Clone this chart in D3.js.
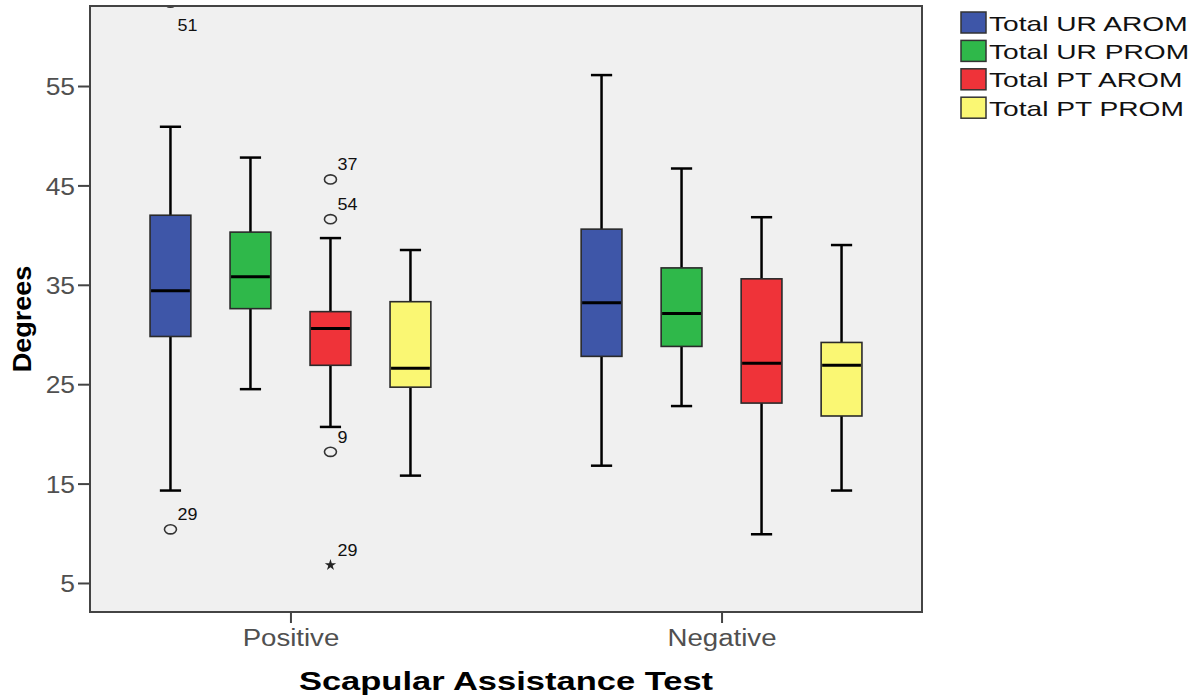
<!DOCTYPE html>
<html><head><meta charset="utf-8">
<script src="https://cdn.jsdelivr.net/npm/d3@7"></script>
<style>
html,body{margin:0;padding:0;background:#fff;}
svg{display:block;font-family:"Liberation Sans",Arial,sans-serif;}
</style></head>
<body>
<svg id="chart" width="1198" height="698"></svg>
<script>
// ---- data ----
const categories = ["Positive", "Negative"];
const seriesNames = ["Total UR AROM", "Total UR PROM", "Total PT AROM", "Total PT PROM"];
const seriesColors = ["#3e56a8", "#2fb84a", "#ef3339", "#faf773"];
// [whisker low, Q1, median, Q3, whisker high] per category
const urArom = [[14.3, 29.8, 34.4, 42.0, 50.9], [16.8, 27.8, 33.2, 40.6, 56.1]];
const urProm = [[24.5, 32.6, 35.8, 40.3, 47.8], [22.8, 28.8, 32.1, 36.7, 46.7]];
const ptArom = [[20.7, 26.9, 30.6, 32.3, 39.7], [9.9, 23.1, 27.1, 35.6, 41.8]];
const ptProm = [[15.8, 24.7, 26.6, 33.3, 38.5], [14.3, 21.8, 26.9, 29.2, 39.0]];
const outlierCats   = ["Positive", "Positive", "Positive", "Positive", "Positive", "Positive"];
const outlierSeries = ["Total UR AROM", "Total UR AROM", "Total PT AROM", "Total PT AROM", "Total PT AROM", "Total PT AROM"];
const outlierValues = [63.4, 10.4, 45.6, 41.6, 18.2, 6.8];
const outlierLabels = ["51", "29", "37", "54", "9", "29"];
const outlierExtreme = [false, false, false, false, false, true];
const yTicks = [5, 15, 25, 35, 45, 55];
const yTitle = "Degrees";
const xTitle = "Scapular Assistance Test";

const seriesStats = [urArom, urProm, ptArom, ptProm];

// ---- layout ----
const svg = d3.select("#chart");
const plot = {left: 90, right: 922, top: 6, bottom: 612};

const x = d3.scalePoint().domain(categories).range([plot.left, plot.right]).padding(0.465);
const xSub = d3.scaleBand().domain(seriesNames).range([-160, 160]).padding(0);
const boxW = xSub.bandwidth() * 0.51;
const capW = boxW * 0.52;
const y = d3.scaleLinear().domain([2.08, 63.05]).range([plot.bottom, plot.top]);
const color = d3.scaleOrdinal().domain(seriesNames).range(seriesColors);

function stretch(sel, k) {
  sel.each(function () {
    const w = this.getComputedTextLength();
    d3.select(this).attr("textLength", w * k).attr("lengthAdjust", "spacingAndGlyphs");
  });
}

// plot background
svg.append("rect").attr("x", plot.left).attr("y", plot.top)
  .attr("width", plot.right - plot.left).attr("height", plot.bottom - plot.top)
  .attr("fill", "#f0f0f0");

svg.append("clipPath").attr("id", "clip").append("rect")
  .attr("x", plot.left).attr("y", plot.top)
  .attr("width", plot.right - plot.left).attr("height", plot.bottom - plot.top);

// boxes
const boxes = [];
seriesNames.forEach((s, si) => {
  categories.forEach((c, ci) => {
    const st = seriesStats[si][ci];
    boxes.push({series: s, cat: c, lo: st[0], q1: st[1], med: st[2], q3: st[3], hi: st[4]});
  });
});

const g = svg.append("g").attr("clip-path", "url(#clip)");
const bg = g.selectAll("g.box").data(boxes).join("g").attr("class", "box")
  .attr("transform", d => `translate(${x(d.cat) + xSub(d.series) + xSub.bandwidth() / 2},0)`);

bg.append("line").attr("x1", 0).attr("x2", 0)
  .attr("y1", d => y(d.hi)).attr("y2", d => y(d.q3))
  .attr("stroke", "#000").attr("stroke-width", 2.5);
bg.append("line").attr("x1", 0).attr("x2", 0)
  .attr("y1", d => y(d.q1)).attr("y2", d => y(d.lo))
  .attr("stroke", "#000").attr("stroke-width", 2.5);
bg.append("line").attr("x1", -capW / 2).attr("x2", capW / 2)
  .attr("y1", d => y(d.hi)).attr("y2", d => y(d.hi))
  .attr("stroke", "#000").attr("stroke-width", 2.5);
bg.append("line").attr("x1", -capW / 2).attr("x2", capW / 2)
  .attr("y1", d => y(d.lo)).attr("y2", d => y(d.lo))
  .attr("stroke", "#000").attr("stroke-width", 2.5);
bg.append("rect").attr("x", -boxW / 2).attr("width", boxW)
  .attr("y", d => y(d.q3)).attr("height", d => y(d.q1) - y(d.q3))
  .attr("fill", d => color(d.series)).attr("stroke", "#2a2a2a").attr("stroke-width", 1.6);
bg.append("line").attr("x1", -boxW / 2 + 1).attr("x2", boxW / 2 - 1)
  .attr("y1", d => y(d.med)).attr("y2", d => y(d.med))
  .attr("stroke", "#000").attr("stroke-width", 3);

// outliers
const outliers = outlierValues.map((v, i) => ({
  cat: outlierCats[i], series: outlierSeries[i], value: v, label: outlierLabels[i], extreme: outlierExtreme[i]
}));
const ox = d => x(d.cat) + xSub(d.series) + xSub.bandwidth() / 2;
g.selectAll("ellipse.out").data(outliers.filter(d => !d.extreme)).join("ellipse")
  .attr("class", "out")
  .attr("cx", ox).attr("cy", d => y(d.value))
  .attr("rx", 6).attr("ry", 4.6)
  .attr("fill", "none").attr("stroke", "#333").attr("stroke-width", 1.6);
g.selectAll("path.ext").data(outliers.filter(d => d.extreme)).join("path")
  .attr("class", "ext")
  .attr("transform", d => `translate(${ox(d)},${y(d.value)})`)
  .attr("d", d3.symbol(d3.symbolStar, 40))
  .attr("fill", "#222");
const olab = svg.selectAll("text.olab").data(outliers).join("text")
  .attr("class", "olab")
  .attr("x", d => ox(d) + 7)
  .attr("y", d => Math.max(y(d.value) - 9, plot.top + 25))
  .attr("font-size", 16).attr("fill", "#111")
  .text(d => d.label);
stretch(olab, 1.12);

// frame
svg.append("rect").attr("x", plot.left).attr("y", plot.top)
  .attr("width", plot.right - plot.left).attr("height", plot.bottom - plot.top)
  .attr("fill", "none").attr("stroke", "#444").attr("stroke-width", 2);

// y axis
const yAxis = svg.append("g").attr("transform", `translate(${plot.left},0)`)
  .call(d3.axisLeft(y).tickValues(yTicks).tickSize(12).tickPadding(3).tickFormat(d3.format("d")));
yAxis.select(".domain").remove();
yAxis.selectAll(".tick line").attr("stroke", "#444").attr("stroke-width", 2);
const yl = yAxis.selectAll(".tick text").attr("font-size", 24).attr("fill", "#505050")
  .attr("font-family", "Liberation Sans, Arial, sans-serif").attr("dy", "0.36em");
stretch(yl, 1.1);

// x axis
const xAxis = svg.append("g").attr("transform", `translate(0,${plot.bottom})`)
  .call(d3.axisBottom(x).tickSize(11).tickPadding(7));
xAxis.select(".domain").remove();
xAxis.selectAll(".tick line").attr("stroke", "#444").attr("stroke-width", 2);
const xl = xAxis.selectAll(".tick text").attr("font-size", 23).attr("fill", "#505050")
  .attr("font-family", "Liberation Sans, Arial, sans-serif").attr("dy", "0.71em");
stretch(xl, 1.2);

// titles
const yt = svg.append("text")
  .attr("transform", `translate(31,${(plot.top + plot.bottom) / 2 + 10}) rotate(-90)`)
  .attr("text-anchor", "middle").attr("font-size", 26).attr("font-weight", "bold").attr("fill", "#000")
  .text(yTitle);
stretch(yt, 1.04);
const xt = svg.append("text")
  .attr("x", (plot.left + plot.right) / 2 + 0).attr("y", 690)
  .attr("text-anchor", "middle").attr("font-size", 25).attr("font-weight", "bold").attr("fill", "#000")
  .text(xTitle);
stretch(xt, 1.38);

// legend
const leg = svg.append("g").attr("transform", "translate(961,12)");
const li = leg.selectAll("g").data(seriesNames).join("g")
  .attr("transform", (d, i) => `translate(0,${i * 28.4})`);
li.append("rect").attr("width", 25).attr("height", 21)
  .attr("fill", d => color(d)).attr("stroke", "#333").attr("stroke-width", 1.5);
const lt = li.append("text").attr("x", 28).attr("y", 18.5)
  .attr("font-size", 21).attr("fill", "#111").text(d => d);
stretch(lt, 1.34);
</script>
</body></html>
